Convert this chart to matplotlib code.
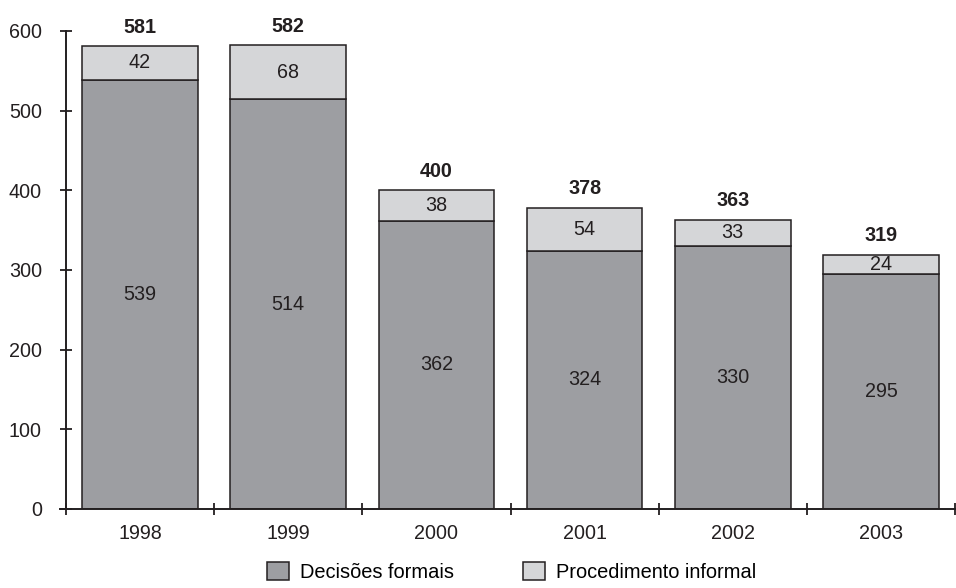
import matplotlib
matplotlib.use("Agg")
import matplotlib.pyplot as plt
import numpy as np

plt.rcParams['font.family'] = ['Liberation Sans', 'DejaVu Sans']

years = ["1998", "1999", "2000", "2001", "2002", "2003"]
decisoes_formais = [539, 514, 362, 324, 330, 295]
procedimento_informal = [42, 68, 38, 54, 33, 24]
totais = [581, 582, 400, 378, 363, 319]

dark = "#9d9ea2"
light = "#d5d6d8"
edge = "#231f20"
txt = "#231f20"
fs = 14.2

fig = plt.figure(figsize=(9.56, 5.88), dpi=100)
ax = fig.add_axes([0.069, 0.1344, 0.930, 0.8129])

x = np.arange(len(years))
w = 0.78
b1 = ax.bar(x, decisoes_formais, width=w, color=dark, edgecolor=edge,
            linewidth=1.1, label="Decisões formais", zorder=2)
b2 = ax.bar(x, procedimento_informal, width=w, bottom=decisoes_formais,
            color=light, edgecolor=edge, linewidth=1.1,
            label="Procedimento informal", zorder=2)

for xi, d, p, t in zip(x, decisoes_formais, procedimento_informal, totais):
    ax.text(xi, d / 2, str(d), ha="center", va="center", fontsize=fs, color=txt)
    ax.text(xi, d + p / 2, str(p), ha="center", va="center", fontsize=fs, color=txt)
    ax.text(xi, d + p + 12, str(t), ha="center", va="bottom", fontsize=fs,
            fontweight="bold", color=txt)

ax.set_xlim(-0.5, len(years) - 0.5)
ax.set_ylim(0, 600)
ax.set_yticks(np.arange(0, 601, 100))
ax.tick_params(axis="y", direction="inout", length=8.6, width=1.3,
               pad=13, labelsize=fs, color=edge, labelcolor=txt)

# boundary ticks on the category axis, labels centred under the bars
ax.set_xticks(np.arange(-0.5, len(years), 1.0))
ax.set_xticklabels([])
ax.set_xticks(x, minor=True)
ax.set_xticklabels(years, minor=True)
ax.tick_params(axis="x", which="major", direction="inout", length=8.6,
               width=1.3, color=edge)
ax.tick_params(axis="x", which="minor", length=0, pad=10.5, labelsize=fs,
               labelcolor=txt)

for s in ["top", "right"]:
    ax.spines[s].set_visible(False)
for s in ["left", "bottom"]:
    ax.spines[s].set_linewidth(1.4)
    ax.spines[s].set_color(edge)
ax.spines["bottom"].set_bounds(-0.54, len(years) - 0.5)

fig.legend(handles=[b1, b2], loc="lower center", bbox_to_anchor=(0.535, -0.02),
           ncol=2, frameon=False, fontsize=14.4, handlelength=1.1,
           handleheight=1.05, columnspacing=3.45, handletextpad=0.55)

fig.savefig("out.png", dpi=100)
